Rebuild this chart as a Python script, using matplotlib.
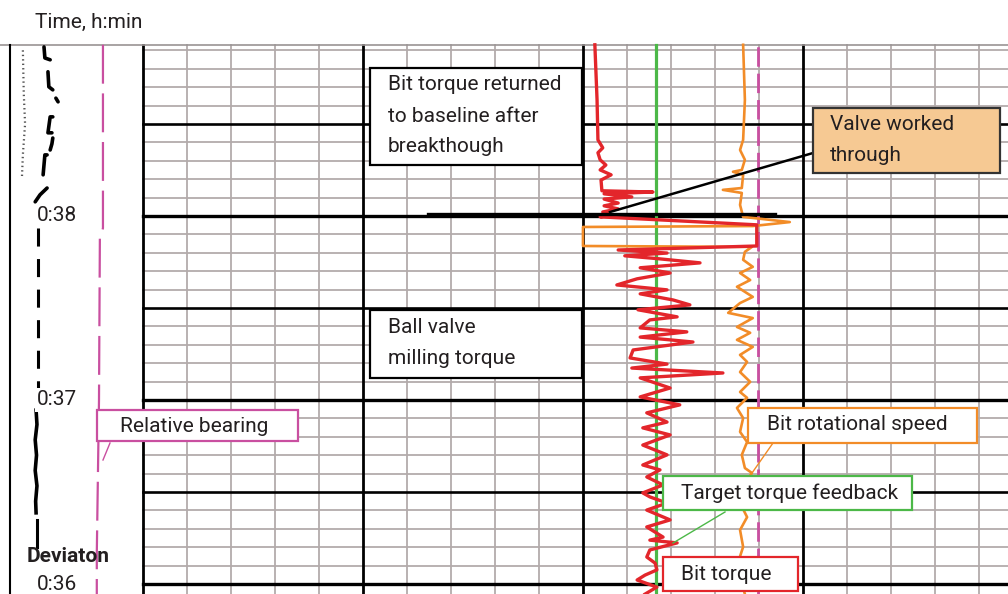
import matplotlib
matplotlib.use('Agg')
import numpy as np
from matplotlib import pyplot as plt
from matplotlib.patches import Rectangle

plt.rcParams['font.family'] = ['Roboto', 'DejaVu Sans']
plt.rcParams['lines.scale_dashes'] = False
plt.rcParams['lines.solid_joinstyle'] = 'round'

# time: seconds after 0:36:00, track values: chart divisions
bit_torque_t = [175.8, 157.8, 144.8, 142.2, 140.6, 138.3, 136.6, 135.0, 133.4, 131.7,
                128.2, 127.8, 127.2, 126.2, 125.5, 124.2, 123.3, 122.3, 121.3, 120.3,
                119.7, 117.1, 110.2, 108.9, 107.9, 107.0, 106.0, 104.7, 103.1, 101.4,
                99.5, 97.5, 95.9, 94.6, 92.6, 91.0, 89.4, 87.1, 86.1, 83.5, 82.2, 80.5,
                78.9, 76.3, 73.7, 71.7, 70.4, 68.8, 67.2, 63.9, 61.0, 58.4, 55.8, 52.8,
                50.9, 48.6, 45.3, 42.1, 38.8, 37.2, 34.9, 32.3, 29.7, 28.4, 26.4, 24.1,
                20.9, 18.6, 15.3, 14.3, 13.4, 11.1, 8.8, 6.8, 4.6, 2.9, 1.3, -1.0, -3.3]
bit_torque = [10.27, 10.32, 10.34, 10.45, 10.34, 10.39, 10.52, 10.39, 10.64, 10.41,
              10.43, 11.59, 10.48, 11.11, 10.48, 10.80, 10.48, 10.80, 10.45, 10.66,
              10.39, 13.95, 13.95, 10.80, 11.91, 10.95, 11.75, 12.66, 11.30, 11.98,
              11.23, 10.77, 11.91, 11.30, 12.05, 12.43, 11.25, 12.14, 11.52, 11.30,
              12.36, 11.30, 12.50, 11.14, 11.07, 11.91, 11.11, 13.18, 11.30, 11.98,
              11.30, 12.20, 11.45, 11.91, 11.36, 11.98, 11.36, 11.91, 11.36, 11.75,
              11.45, 11.82, 11.36, 11.52, 11.91, 11.45, 11.98, 11.45, 11.82, 11.52,
              12.14, 11.52, 11.45, 11.64, 11.68, 11.41, 11.23, 11.68, 11.41]

rot_speed_t = [175.8, 157.8, 144.8, 141.5, 138.3, 135.0, 134.4, 133.4, 129.1, 128.5,
               127.5, 123.6, 119.7, 118.0, 116.7, 116.4, 110.2, 109.9, 108.3, 105.7,
               103.4, 101.4, 99.1, 96.9, 93.6, 91.6, 88.4, 86.7, 83.8, 81.9, 79.6, 77.3,
               74.7, 72.4, 69.1, 65.9, 62.6, 60.7, 57.4, 54.1, 49.6, 46.3, 42.1, 37.8,
               36.2, 32.3, 29.7, 26.4, 21.8, 17.6, 12.1, 6.8, 0.3, -3.3]
rot_speed = [13.64, 13.68, 13.64, 13.57, 13.68, 13.61, 13.41, 13.64, 13.61, 13.18,
             13.61, 13.57, 13.64, 14.70, 13.86, 10.00, 10.00, 13.84, 13.68, 13.64,
             13.86, 13.57, 13.80, 13.50, 13.86, 13.57, 13.30, 13.86, 13.50, 13.80,
             13.50, 13.86, 13.57, 13.73, 13.57, 13.80, 13.57, 13.73, 13.50, 13.64,
             13.57, 13.73, 13.61, 13.68, 13.84, 13.66, 13.61, 13.57, 13.73, 13.57,
             13.64, 13.52, 13.61, 13.68]

target_torque = 11.66
bearing_ref = 13.98
breakthrough_t = 120.7
breakthrough_x = [6.48, 14.36]

rel_bearing_t = [175.8, 116.0, 113.0, 60.0, 10.0, -3.3]
rel_bearing = [-0.91, -0.91, -0.98, -1.00, -1.05, -1.05]

deviation_segments = [
    ([175.1, 171.5, 170.9], [-2.25, -2.23, -2.11]),
    ([167.0, 162.1, 161.1], [-2.16, -2.14, -2.05]),
    ([158.4, 157.2], [-1.98, -1.93]),
    ([152.3, 152.3, 147.1, 147.1], [-2.05, -2.11, -2.16, -2.07]),
    ([145.4, 143.5, 141.5], [-2.05, -2.07, -2.11]),
    ([139.9, 139.9, 133.4], [-2.18, -2.23, -2.27]),
    ([129.1, 126.9, 124.6], [-2.18, -2.34, -2.45]),
]
dev_dashed_t = [116.0, 60.5]
dev_dashed = -2.39
dev_solid_t = [56.7, 52.0, 47.0, 42.0, 37.0, 32.0, 27.0, 23.2]
dev_solid = [-2.43, -2.41, -2.45, -2.42, -2.45, -2.41, -2.44, -2.43]
dev_tail_t = [20.9, 12.1]
dotted_t = [174.0, 160.0, 150.0, 140.0, 133.0]
dotted_x = [-2.73, -2.71, -2.68, -2.73, -2.75]

time_labels = [(120, '0:38'), (60, '0:37'), (0, '0:36')]

RED = '#e3262b'
ORANGE = '#f28c28'
GREEN = '#4cb848'
MAGENTA = '#c94fa0'
GRIDC = '#b3abab'
INK = '#231f20'
FS = 15

W, H = 1008, 594
T_TOP = 175.8
X_RIGHT = 19.66

fig = plt.figure(figsize=(10.08, 5.94), dpi=100)
ax = fig.add_axes([0, 0, 1, 1])
ax.set_xlim(-3.25, X_RIGHT)
ax.set_ylim(-3.26, 190.4)
ax.axis('off')


def pf(x, y):
    # pixel position -> axes fraction, for layout items
    return x / W, 1 - y / H


# grid
for t in np.arange(0, T_TOP, 6):
    if t % 60 == 0:
        ax.plot([0, X_RIGHT], [t, t], color='black', lw=2.4, zorder=2)
    elif t % 30 == 0:
        ax.plot([0, X_RIGHT], [t, t], color='black', lw=1.9, zorder=2)
    else:
        ax.plot([0, X_RIGHT], [t, t], color=GRIDC, lw=1.3, zorder=1)
for x in range(0, 20):
    if x % 5 == 0:
        ax.plot([x, x], [-3.3, T_TOP], color='black', lw=2.0, zorder=2)
    else:
        ax.plot([x, x], [-3.3, T_TOP], color=GRIDC, lw=1.3, zorder=1)
ax.plot([-3.3, X_RIGHT], [T_TOP, T_TOP], color='#9a9494', lw=1.2, zorder=2)
ax.plot([-3.02, -3.02], [-3.3, T_TOP], color='black', lw=1.5, zorder=2)

# curves
ax.plot([target_torque, target_torque], [-3.3, T_TOP], color=GREEN, lw=2.3, zorder=3)
ax.plot([bearing_ref, bearing_ref], [-3.3, T_TOP], color=MAGENTA, lw=2.0,
        dashes=(14, 5), zorder=3)
ax.plot(rot_speed, rot_speed_t, color=ORANGE, lw=1.9, zorder=4)
ax.plot(bit_torque, bit_torque_t, color=RED, lw=2.4, zorder=5)
ax.plot(breakthrough_x, [breakthrough_t] * 2, color='black', lw=2.4, zorder=6)

ax.plot(rel_bearing, rel_bearing_t, color=MAGENTA, lw=1.6, dashes=(28, 7), zorder=3)
for ts, xs in deviation_segments:
    ax.plot(xs, ts, color='black', lw=2.6, solid_capstyle='round', zorder=3)
ax.plot([dev_dashed] * 2, dev_dashed_t, color='black', lw=2.2, dashes=(13, 9), zorder=3)
ax.plot(dev_solid, dev_solid_t, color='black', lw=2.6, zorder=3)
ax.plot([-2.41, -2.41], dev_tail_t, color='black', lw=2.2, zorder=3)
ax.plot(dotted_x, dotted_t, color='#555555', lw=1.6, dashes=(1, 2.2), zorder=3)

# time labels
ax.text(*pf(35, 22), 'Time, h:min', transform=ax.transAxes, fontsize=FS,
        color=INK, va='center', ha='left')
for t, lab in time_labels:
    ax.text(-2.41, t, lab, fontsize=FS, color=INK, va='center', ha='left', zorder=7,
            bbox=dict(facecolor='white', edgecolor='none', pad=1.5))
ax.text(*pf(27, 557), 'Deviaton', transform=ax.transAxes, fontsize=FS,
        fontweight='bold', color=INK, va='center', ha='left', zorder=7)


def box(x0, y0, x1, y1, ec, fc='white', lw=1.6):
    fx0, fy1 = pf(x0, y0)
    fx1, fy0 = pf(x1, y1)
    ax.add_patch(Rectangle((fx0, fy0), fx1 - fx0, fy1 - fy0, transform=ax.transAxes,
                           facecolor=fc, edgecolor=ec, lw=lw, zorder=8))


def label(x, y, s):
    ax.text(*pf(x, y), s, transform=ax.transAxes, fontsize=FS, color=INK,
            va='center', ha='left', zorder=9, linespacing=1.8)


def leader(x0, y0, x1, y1, c, lw=1.0):
    a, b = pf(x0, y0)
    c2, d = pf(x1, y1)
    ax.plot([a, c2], [b, d], transform=ax.transAxes, color=c, lw=lw, zorder=7)


leader(610, 212, 813, 153, 'black', lw=1.8)
leader(110, 443, 103, 460, MAGENTA)
leader(773, 443, 752, 473, ORANGE)
leader(725, 512, 673, 543, GREEN)

box(370, 68, 582, 165, 'black')
label(388, 116, 'Bit torque returned\nto baseline after\nbreakthough')
box(813, 108, 1000, 173, '#333333', fc='#f6c993')
label(830, 140, 'Valve worked\nthrough')
box(370, 310, 582, 378, 'black')
label(388, 343, 'Ball valve\nmilling torque')
box(97, 410, 298, 441, MAGENTA)
label(120, 426, 'Relative bearing')
box(748, 408, 977, 443, ORANGE)
label(767, 425, 'Bit rotational speed')
box(663, 476, 912, 510, GREEN)
label(681, 493, 'Target torque feedback')
box(663, 557, 798, 591, RED)
label(681, 574, 'Bit torque')

fig.savefig('out.png', dpi=100)
